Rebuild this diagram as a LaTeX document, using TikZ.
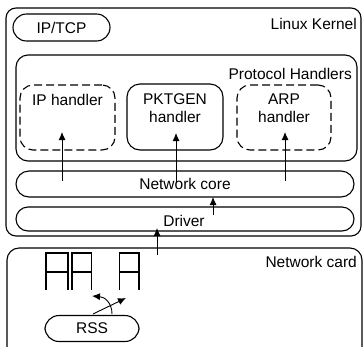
\documentclass[tikz,border=0pt]{standalone}
\usepackage{fontspec}
\setmainfont{Liberation Sans}
\usetikzlibrary{arrows.meta}

\tikzset{
  blk/.style={draw=black, line width=1.1pt, rounded corners=#1, inner sep=0pt},
  hdl/.style={blk=13pt, dash pattern=on 8pt off 4pt},
  txt/.style={inner sep=0pt, font=\fontsize{15.5}{18}\selectfont},
  flow/.style={-{Latex[length=8pt,width=7pt]}, line width=0.9pt},
  queue/.style={line width=1.1pt}
}

\begin{document}
\begin{tikzpicture}[x=1pt, y=-1pt]
        \path[use as bounding box, clip] (0,0) rectangle (363,346);

        % kernel side
        \node[blk=10pt, minimum width=355pt, minimum height=228pt] (kernel) at (183.5,122) {};
        \node[txt, anchor=east] (kernellbl) at (357,24) {Linux Kernel};
        \node[blk=13.5pt, minimum width=97pt, minimum height=27pt] (iptcp) at (61.5,27.5) {};
        \node[txt] (iptcplbl) at (iptcp) {IP/TCP};

        \node[blk=12pt, minimum width=341pt, minimum height=106pt] (proto) at (186.5,108) {};
        \node[txt, anchor=east] (protolbl) at (352,74) {Protocol Handlers};

        \node[hdl, minimum width=95pt, minimum height=65pt] (iph) at (67.5,117.5) {};
        \node[txt] (iphlbl) at (67.5,100) {IP handler};
        \node[blk=13pt, minimum width=96pt, minimum height=66pt] (pkt) at (175,117) {};
        \node[txt, align=center] (pktlbl) at (175,108.5) {PKTGEN\\handler};
        \node[hdl, minimum width=94pt, minimum height=65pt] (arp) at (284,117.5) {};
        \node[txt, align=center] (arplbl) at (284,108.5) {ARP\\handler};

        \node[blk=13pt, minimum width=338pt, minimum height=26pt] (core) at (185,184) {};
        \node[txt] (corelbl) at (core) {Network core};
        \node[blk=12pt, minimum width=338pt, minimum height=24pt] (drv) at (185,219) {};
        \node[txt] (drvlbl) at (184,221) {Driver};

        % card side
        \node[blk=12pt, minimum width=355pt, minimum height=120pt] (card) at (184.5,308) {};
        \node[txt, anchor=east] (cardlbl) at (357,262) {Network card};
        \foreach \l/\r in {46/68, 72/91.5, 119.5/139}
        \draw[queue] (\l,290) -- (\l,253) -- (\r,253) -- (\r,290) (\l,272) -- (\r,272);
        \node[blk=14pt, minimum width=94pt, minimum height=26pt] (rss) at (92,328.5) {};
        \node[txt] (rsslbl) at (rss) {RSS};

        % connectors
        \coordinate (ipin) at (62,132);   \coordinate (ipout) at (62,181);
        \coordinate (pktin) at (176,133); \coordinate (pktout) at (176,182);
        \coordinate (arpin) at (285,132); \coordinate (arpout) at (285,181);
        \coordinate (corein) at (213,197); \coordinate (drvout) at (213,215);
        \coordinate (drvin) at (157,228); \coordinate (cardout) at (157,255);
        \coordinate (rssa) at (93,314);   \coordinate (qright) at (126,298);
        \coordinate (rssb) at (112,314);  \coordinate (qleft) at (92,296);
        \draw[flow] (ipout) -- (ipin);
        \draw[flow] (pktout) -- (pktin);
        \draw[flow] (arpout) -- (arpin);
        \draw[flow] (drvout) -- (corein);
        \draw[flow] (cardout) -- (drvin);
        \draw[flow] (rssa) -- (qright);
        \draw[flow] (rssb) .. controls (112,303) and (105,297) .. (qleft);
\end{tikzpicture}
\end{document}
